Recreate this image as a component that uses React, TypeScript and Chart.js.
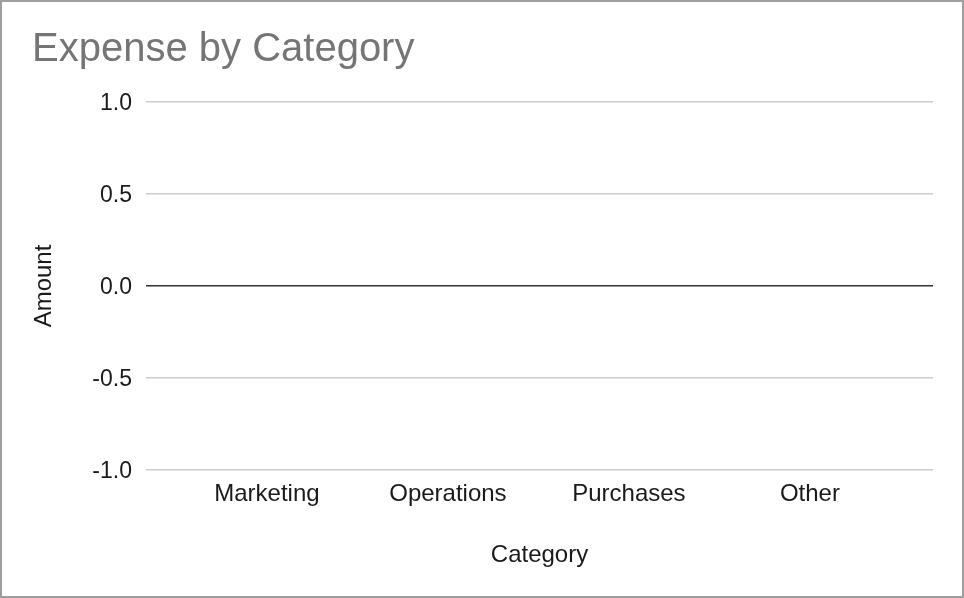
import React, { useEffect, useRef } from 'react';
import Chart from 'chart.js/auto';

// categories and values (the sheet has no expenses yet, so all are zero)
const categories = ['Marketing', 'Operations', 'Purchases', 'Other'];
const amounts = [0, 0, 0, 0];
const yTicks = [-1, -0.5, 0, 0.5, 1];

const FONT = "'Liberation Sans', Arial, Helvetica, sans-serif";

function ExpenseChart() {
  const canvasRef = useRef<HTMLCanvasElement>(null);

  useEffect(() => {
    const canvas = canvasRef.current;
    if (!canvas) return;
    const context = canvas.getContext('2d');
    if (!context) return;

    const chart = new Chart(context, {
      type: 'bar',
      data: {
        datasets: [
          {
            label: 'Amount',
            data: categories.map((_, i) => ({ x: i, y: amounts[i] })),
            backgroundColor: '#4285f4',
            borderWidth: 0,
          },
        ],
      },
      options: {
        animation: false,
        responsive: true,
        maintainAspectRatio: false,
        layout: {
          padding: { left: 32, right: 31, top: 0, bottom: 0 },
        },
        plugins: {
          legend: { display: false },
          tooltip: { enabled: false },
          title: {
            display: true,
            text: 'Expense by Category',
            align: 'start',
            color: '#757575',
            font: { family: FONT, size: 40, weight: 'normal' },
            padding: { top: 26, bottom: 28 },
          },
        },
        scales: {
          x: {
            type: 'linear',
            offset: false,
            bounds: 'ticks',
            min: -0.668,
            max: 3.68,
            grid: { display: false, offset: false },
            border: { display: false },
            afterBuildTicks: (scale: any) => {
              scale.ticks = categories.map((_, i) => ({ value: i }));
            },
            afterFit: (scale: any) => {
              scale.height = 128;
            },
            ticks: {
              autoSkip: false,
              maxRotation: 0,
              padding: 2,
              color: '#1a1a1a',
              font: { family: FONT, size: 24 },
              callback: (value: any) => categories[value] ?? '',
            },
            title: {
              display: true,
              text: 'Category',
              color: '#1a1a1a',
              font: { family: FONT, size: 24 },
              padding: { top: 0, bottom: 28 },
            },
          },
          y: {
            min: -1,
            max: 1,
            border: { display: false },
            afterBuildTicks: (scale: any) => {
              scale.ticks = yTicks.map((v) => ({ value: v }));
            },
            afterFit: (scale: any) => {
              scale.width = 114;
            },
            grid: {
              drawTicks: false,
              color: (ctx: any) => (ctx.tick && ctx.tick.value === 0 ? '#333' : '#cccccc'),
              lineWidth: (ctx: any) => (ctx.tick && ctx.tick.value === 0 ? 1.6 : 1.4),
            },
            ticks: {
              padding: 14,
              labelOffset: 2,
              color: '#1a1a1a',
              font: { family: FONT, size: 23 },
              callback: (value: any) => Number(value).toFixed(1),
            },
            title: {
              display: true,
              text: 'Amount',
              color: '#1a1a1a',
              font: { family: FONT, size: 24, lineHeight: 1 },
              padding: { top: 0, bottom: 0 },
            },
          },
        },
      },
    });

    return () => {
      chart.destroy();
    };
  }, []);

  return <canvas ref={canvasRef} />;
}

export default function App() {
  useEffect(() => {
    document.body.style.margin = '0';
  }, []);

  return (
    <div style={{ position: 'relative', width: 964, height: 598, background: '#fff' }}>
      <div style={{ position: 'absolute', inset: 0 }}>
        <ExpenseChart />
      </div>
      <div
        style={{
          position: 'absolute',
          inset: 0,
          border: '2px solid #9e9e9e',
          boxSizing: 'border-box',
          pointerEvents: 'none',
        }}
      />
    </div>
  );
}
